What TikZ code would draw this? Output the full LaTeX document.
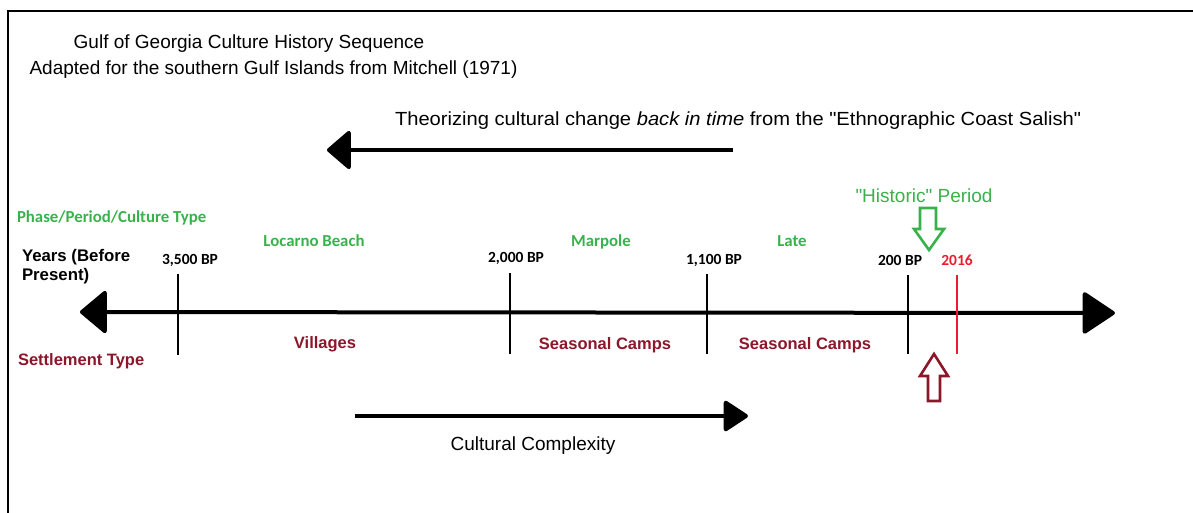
\documentclass[tikz,border=0pt]{standalone}
\usepackage{fontspec}
\setmainfont{Liberation Sans}[Ligatures=TeXOff]
\newfontfamily\calfont{Carlito}
\newfontfamily\narrowfont[Ligatures=TeXOff]{Liberation Sans}
\newfontfamily\widefont[FakeStretch=1.06,Ligatures=TeXOff]{Liberation Sans}
\usetikzlibrary{arrows.meta}
\definecolor{grn}{RGB}{58,178,76}
\definecolor{dred}{RGB}{140,22,42}
\definecolor{redsixteen}{RGB}{236,28,48}
\begin{document}
\begin{tikzpicture}[x=1pt,y=-1pt,
  every node/.style={inner sep=0pt,outer sep=0pt},
  ttl/.style={font=\narrowfont\fontsize{19}{22}\selectfont,anchor=base},
  phase/.style={font=\calfont\bfseries\fontsize{16.8}{19}\selectfont,text=grn,anchor=base},
  yrlbl/.style={font=\calfont\bfseries\fontsize{15.5}{18}\selectfont,anchor=base},
  sett/.style={font=\bfseries\fontsize{16.5}{19}\selectfont,text=dred,anchor=base},
  tickline/.style={line width=2.6pt},
  axisline/.style={line width=4pt},
  hollow/.style={line width=2.6pt,line join=miter},
]
\useasboundingbox (0,0) rectangle (1193,513);
\fill[white] (0,0) rectangle (1193,513);
% frame
\draw[line width=2pt] (8,513) -- (8,11) -- (1193,11);

% titles
\node[ttl] (t1) at (249,49) {Gulf of Georgia Culture History Sequence};
\node[ttl] (t2) at (273.5,75) {Adapted for the southern Gulf Islands from Mitchell (1971)};

% theorizing arrow
\node[ttl,font=\widefont\fontsize{19}{22}\selectfont,anchor=base west] (theo) at (395,126) {Theorizing cultural change \textit{back in time} from the "Ethnographic Coast Salish"};
\coordinate (thA) at (733,150);
\coordinate (thB) at (327,150);
\draw[axisline,-{Triangle[length=25pt,width=42pt,round]}] (thA) -- (thB);

% main axis
\coordinate (axL) at (80,312);
\coordinate (axR) at (1115,313);
\draw[axisline,{Triangle[length=28pt,width=46pt,round]}-{Triangle[length=34pt,width=44pt,round]}] (axL) -- (axR);

% ticks
\coordinate (k1a) at (178,274); \coordinate (k1b) at (178,355);
\coordinate (k2a) at (510,273); \coordinate (k2b) at (510,354);
\coordinate (k3a) at (707,274); \coordinate (k3b) at (707,354);
\coordinate (k4a) at (908,275); \coordinate (k4b) at (908,354);
\coordinate (k5a) at (957,275); \coordinate (k5b) at (957,354);
\draw[tickline] (k1a) -- (k1b);
\draw[tickline] (k2a) -- (k2b);
\draw[tickline] (k3a) -- (k3b);
\draw[tickline] (k4a) -- (k4b);
\draw[tickline,redsixteen] (k5a) -- (k5b);

% phase labels
\node[phase,anchor=base west] (ph) at (17,222.5) {Phase/Period/Culture Type};
\node[phase] (loc) at (314,246.5) {Locarno Beach};
\node[phase] (mar) at (601,246) {Marpole};
\node[phase] (late) at (792,246) {Late};
\node[font=\fontsize{19}{22}\selectfont,text=grn,anchor=base] (hist) at (924,202) {"Historic" Period};

% years
\node[font=\bfseries\fontsize{16.8}{19}\selectfont,align=left,anchor=north west] (yrs) at (22,249.5) {Years (Before\\Present)};
\node[yrlbl] (y1) at (190,264) {3,500 BP};
\node[yrlbl] (y2) at (516,262) {2,000 BP};
\node[yrlbl] (y3) at (714,264) {1,100 BP};
\node[yrlbl] (y4) at (900,265) {200 BP};
\node[yrlbl,text=redsixteen] (y5) at (957,265) {2016};

% settlement
\node[sett,anchor=base west] (st) at (18,365) {Settlement Type};
\node[sett] (s1) at (325,348.5) {Villages};
\node[sett] (s2) at (605,349) {Seasonal Camps};
\node[sett] (s3) at (805,349) {Seasonal Camps};

% hollow arrows
\draw[hollow,grn] (920,208) -- (936,208) -- (936,229) -- (944,229) -- (929,250) -- (914,229) -- (920,229) -- cycle;
\draw[hollow,dred] (928,401) -- (940,401) -- (940,376) -- (948,376) -- (934,354) -- (920,376) -- (928,376) -- cycle;

% cultural complexity
\coordinate (ccA) at (355,416);
\coordinate (ccB) at (748,416);
\draw[axisline,-{Triangle[length=26pt,width=33pt,round]}] (ccA) -- (ccB);
\node[ttl] (cc) at (533,450) {Cultural Complexity};
\end{tikzpicture}
\end{document}
